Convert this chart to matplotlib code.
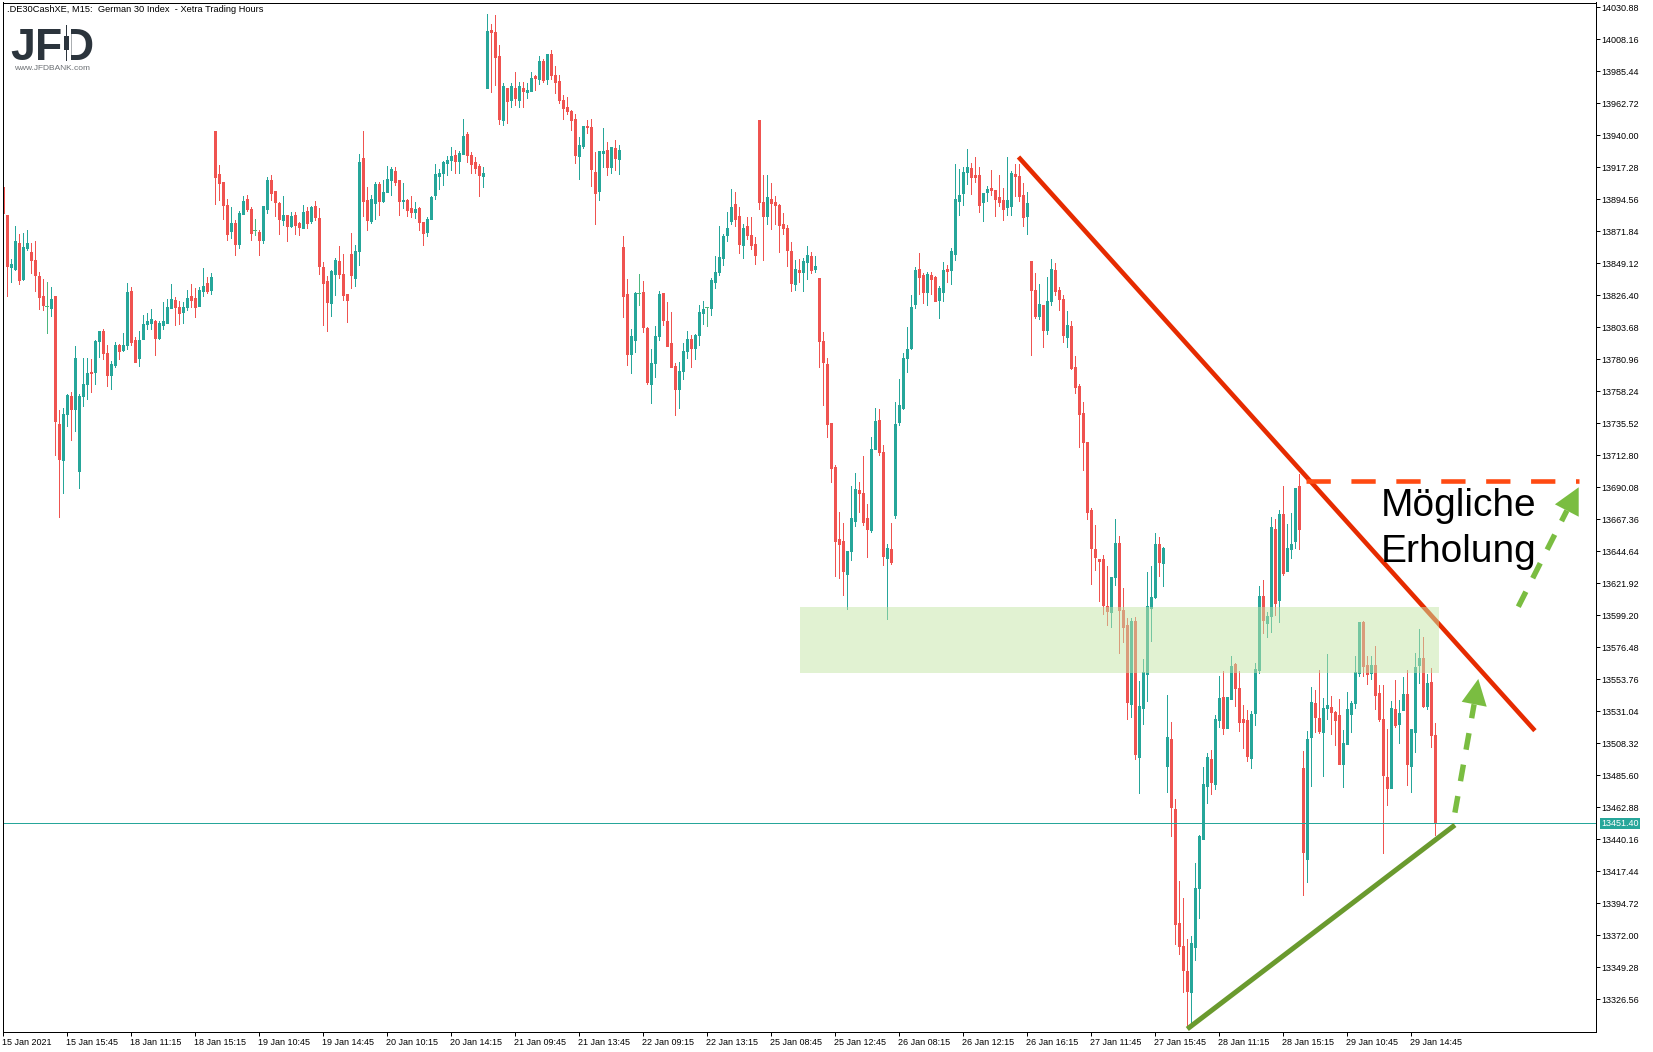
import matplotlib
matplotlib.use("Agg")
import matplotlib.pyplot as plt
import numpy as np
from matplotlib.patches import Polygon, Rectangle

plt.rcParams["font.family"] = ["Liberation Sans", "DejaVu Sans"]

# R = falling, G = rising, D = doji
directions = (
    "RRGGRGGRRR" "RDGRRGGRGG" "GGRGGRRGGR" "GGRRGGGGRG" "GGGRRGGRRG"
    "GRGRRRRGRG" "GRRDRGGRRR" "GRGRRGRGRR" "RRGGRRRRGG" "RRGGRGGGRR"
    "GRRGRRGGGG" "GGGRGGRRRR" "GGRRRGRGRG" "RGGRGRGRRR" "RRRRGGRRRG"
    "GRGRGRRGGD" "RRGGGRRRRG" "GGRGGGDGGG" "GGGRRGRRRR" "RGRRRRRRGR"
    "GGRGRRRRRR" "RGGGRRRGGR" "RGRGGGGGGR" "RGRRGGRGGG" "GGRRRGGRRR"
    "RGGRRRGRRG" "RGGRRRGRRR" "RRRRRRRGGR" "RRGRGGGGGR" "GGRRRRRGGG"
    "GGRGGRGGRR" "RRGGGRGGRG" "RGGGRRGGRR" "GGRRRGGGGG" "RRGRRRRGRG"
    "GRGGGRGRR"
)

highs = [
    13903.3, 13883.4, 13852.2, 13875.5, 13870.0, 13870.7, 13872.9, 13863.5, 13864.9, 13842.9,
    13838.1, 13835.9, 13832.3, 13825.8, 13744.9, 13746.4, 13756.5, 13757.7, 13790.3, 13756.2,
    13781.9, 13781.9, 13781.2, 13794.6, 13801.1, 13802.5, 13791.0, 13779.7, 13793.2, 13791.8,
    13799.7, 13835.2, 13832.3, 13796.8, 13801.1, 13812.4, 13813.8, 13816.7, 13808.8, 13808.1,
    13821.7, 13823.9, 13834.5, 13825.1, 13822.2, 13821.7, 13830.1, 13834.5, 13831.6, 13832.3,
    13845.7, 13839.3, 13842.1, 13943.0, 13918.9, 13906.8, 13894.8, 13889.1, 13879.9, 13886.2,
    13896.9, 13897.6, 13889.1, 13880.6, 13872.7, 13889.8, 13910.4, 13911.8, 13900.4, 13892.6,
    13896.9, 13883.4, 13885.5, 13885.5, 13878.4, 13890.5, 13889.1, 13889.8, 13893.3, 13888.4,
    13850.0, 13840.1, 13844.3, 13852.9, 13861.4, 13855.7, 13827.3, 13870.6, 13862.1, 13926.7,
    13943.0, 13903.3, 13897.6, 13906.8, 13906.8, 13908.3, 13918.2, 13917.5, 13917.5, 13908.3,
    13906.1, 13894.8, 13896.9, 13892.6, 13889.1, 13878.4, 13882.0, 13896.9, 13919.6, 13916.1,
    13921.7, 13925.3, 13931.7, 13929.6, 13928.8, 13951.6, 13942.3, 13928.1, 13924.6, 13919.6,
    13917.5, 14026.1, 14019.0, 14025.4, 14004.1, 13977.1, 13973.6, 13977.1, 13984.9, 13977.8,
    13977.8, 13977.1, 13984.9, 13982.8, 13996.3, 13994.2, 13997.7, 14000.6, 13989.2, 13982.8,
    13968.6, 13967.2, 13958.0, 13955.1, 13938.8, 13946.6, 13950.9, 13951.6, 13928.1, 13928.8,
    13945.2, 13935.2, 13931.7, 13936.7, 13933.1, 13868.5, 13837.9, 13802.4, 13828.7, 13841.5,
    13836.5, 13803.9, 13788.2, 13804.6, 13829.4, 13828.0, 13821.6, 13814.5, 13778.3, 13779.0,
    13792.5, 13801.0, 13798.2, 13798.9, 13819.5, 13822.3, 13818.1, 13838.7, 13854.3, 13875.6,
    13869.9, 13885.5, 13901.9, 13899.7, 13889.1, 13877.0, 13882.0, 13882.0, 13867.8, 13950.9,
    13911.8, 13911.8, 13906.1, 13896.9, 13891.2, 13884.8, 13876.3, 13864.3, 13851.5, 13852.3,
    13853.0, 13861.4, 13857.1, 13854.2, 13838.6, 13800.4, 13781.9, 13735.6, 13705.9, 13672.5,
    13664.8, 13644.9, 13691.0, 13700.1, 13693.9, 13712.3, 13678.3, 13725.8, 13746.4, 13745.7,
    13720.0, 13649.5, 13664.8, 13750.7, 13767.1, 13785.6, 13803.8, 13826.6, 13846.5, 13856.3,
    13842.2, 13842.9, 13842.9, 13840.0, 13833.1, 13850.1, 13847.9, 13859.9, 13919.7, 13916.1,
    13917.6, 13930.3, 13920.4, 13924.7, 13917.6, 13899.1, 13904.1, 13915.4, 13901.2, 13911.8,
    13902.7, 13924.5, 13914.7, 13919.7, 13919.7, 13906.0, 13899.8, 13850.7, 13842.2, 13834.4,
    13819.5, 13839.4, 13852.2, 13849.3, 13832.3, 13826.6, 13815.2, 13808.1, 13783.3, 13763.4,
    13750.6, 13722.2, 13675.3, 13663.3, 13639.1, 13642.0, 13634.2, 13626.4, 13667.5, 13655.5,
    13618.5, 13597.2, 13597.2, 13597.9, 13552.5, 13568.2, 13629.9, 13634.2, 13657.6, 13654.7,
    13647.7, 13542.6, 13523.4, 13468.8, 13410.5, 13398.5, 13369.3, 13371.5, 13423.3, 13443.2,
    13491.5, 13501.4, 13503.6, 13528.4, 13556.0, 13559.6, 13541.2, 13570.3, 13565.3, 13559.6,
    13535.5, 13532.0, 13531.2, 13565.3, 13619.9, 13624.2, 13601.5, 13669.0, 13667.5, 13673.9,
    13691.0, 13664.0, 13671.8, 13689.6, 13699.5, 13502.8, 13517.0, 13548.3, 13546.2, 13560.4,
    13540.5, 13571.7, 13541.9, 13531.2, 13539.8, 13517.7, 13544.7, 13538.3, 13570.3, 13594.4,
    13595.2, 13570.3, 13570.3, 13577.4, 13549.7, 13549.7, 13518.5, 13538.3, 13553.3, 13539.1,
    13555.4, 13560.4, 13518.5, 13572.4, 13589.4, 13583.8, 13557.5, 13561.8, 13522.7,
]

lows = [
    13884.9, 13825.8, 13835.9, 13844.3, 13834.5, 13837.3, 13858.5, 13842.1, 13829.4, 13816.7,
    13816.0, 13799.7, 13811.7, 13713.0, 13668.9, 13685.9, 13733.7, 13723.6, 13730.1, 13689.5,
    13747.8, 13752.9, 13757.7, 13763.4, 13782.6, 13781.2, 13762.0, 13759.8, 13775.4, 13781.2,
    13786.9, 13788.1, 13791.0, 13779.0, 13776.1, 13795.3, 13802.3, 13802.5, 13784.1, 13795.3,
    13802.5, 13806.6, 13817.4, 13805.2, 13805.9, 13806.6, 13816.0, 13818.1, 13810.9, 13818.8,
    13825.8, 13828.0, 13827.3, 13891.2, 13894.1, 13880.6, 13865.7, 13867.1, 13855.0, 13860.0,
    13884.1, 13886.2, 13865.7, 13869.2, 13855.0, 13863.5, 13884.8, 13894.1, 13882.7, 13869.9,
    13876.3, 13864.9, 13874.9, 13869.9, 13869.2, 13874.2, 13874.2, 13877.7, 13879.9, 13841.5,
    13805.3, 13801.0, 13811.7, 13826.6, 13838.7, 13823.0, 13807.4, 13831.6, 13833.0, 13847.9,
    13882.7, 13872.7, 13877.7, 13880.6, 13883.4, 13892.6, 13899.7, 13897.6, 13904.7, 13883.4,
    13888.4, 13882.7, 13882.0, 13881.3, 13872.7, 13862.1, 13868.5, 13880.6, 13894.8, 13901.9,
    13904.7, 13911.8, 13915.3, 13913.2, 13913.2, 13926.7, 13921.0, 13913.2, 13913.2, 13896.9,
    13903.3, 13973.6, 13970.7, 13975.7, 13948.0, 13947.3, 13948.7, 13960.1, 13961.5, 13960.1,
    13960.1, 13966.5, 13971.4, 13972.2, 13976.4, 13977.8, 13976.4, 13980.0, 13970.0, 13962.9,
    13951.6, 13955.1, 13943.7, 13920.3, 13909.0, 13931.0, 13941.6, 13904.0, 13877.0, 13894.0,
    13917.5, 13911.8, 13913.2, 13915.3, 13912.5, 13811.0, 13776.9, 13771.2, 13786.1, 13819.5,
    13800.3, 13763.4, 13749.9, 13768.3, 13794.6, 13805.3, 13790.4, 13775.5, 13741.4, 13746.3,
    13766.9, 13781.8, 13775.5, 13781.1, 13791.1, 13806.0, 13804.6, 13812.4, 13831.6, 13840.8,
    13847.9, 13864.9, 13877.0, 13875.6, 13856.4, 13852.8, 13866.3, 13859.2, 13848.6, 13887.6,
    13851.4, 13877.0, 13873.4, 13877.0, 13857.1, 13869.9, 13847.2, 13829.5, 13830.2, 13835.9,
    13829.5, 13837.9, 13842.2, 13842.9, 13775.5, 13748.6, 13725.8, 13693.9, 13627.1, 13625.9,
    13613.7, 13603.9, 13638.4, 13662.7, 13672.5, 13663.4, 13640.6, 13658.4, 13717.1, 13713.1,
    13634.8, 13596.7, 13635.5, 13668.2, 13734.2, 13745.7, 13771.9, 13788.2, 13817.5, 13827.3,
    13820.8, 13819.6, 13827.3, 13822.3, 13810.3, 13822.3, 13835.9, 13834.5, 13851.5, 13883.5,
    13890.4, 13905.3, 13898.3, 13906.7, 13885.6, 13879.1, 13893.3, 13897.6, 13882.7, 13889.7,
    13879.9, 13883.5, 13883.5, 13896.9, 13893.3, 13875.6, 13870.0, 13784.1, 13810.3, 13809.6,
    13789.7, 13798.9, 13819.5, 13826.6, 13815.9, 13793.2, 13789.7, 13774.1, 13757.0, 13718.7,
    13702.3, 13667.5, 13621.4, 13631.3, 13609.3, 13600.1, 13592.3, 13590.9, 13620.7, 13572.7,
    13580.2, 13525.6, 13527.0, 13497.2, 13473.0, 13522.0, 13538.3, 13581.0, 13611.5, 13627.1,
    13620.0, 13473.7, 13442.5, 13365.8, 13358.7, 13331.7, 13306.8, 13310.4, 13354.4, 13384.2,
    13440.3, 13465.9, 13472.3, 13475.9, 13519.9, 13514.9, 13519.2, 13539.8, 13534.8, 13517.0,
    13505.0, 13495.7, 13490.8, 13521.3, 13558.2, 13586.6, 13583.7, 13587.3, 13599.4, 13594.4,
    13627.8, 13630.6, 13639.8, 13646.9, 13646.2, 13400.6, 13409.8, 13478.0, 13516.3, 13515.6,
    13485.1, 13525.6, 13514.9, 13507.1, 13493.6, 13477.3, 13507.8, 13516.3, 13533.4, 13556.1,
    13556.1, 13550.4, 13554.0, 13532.7, 13524.1, 13430.4, 13464.5, 13476.6, 13519.9, 13508.5,
    13532.0, 13478.7, 13473.7, 13502.1, 13551.1, 13534.1, 13532.6, 13505.7, 13443.2,
]

body_tops = [
    13903.3, 13883.4, 13848.6, 13864.9, 13863.5, 13860.6, 13863.5, 13857.0, 13851.5, 13840.0,
    13825.8, 13819.1, 13823.7, 13825.8, 13735.1, 13742.1, 13755.5, 13754.8, 13781.9, 13754.8,
    13763.4, 13771.1, 13771.8, 13793.9, 13801.1, 13801.1, 13785.3, 13777.6, 13791.0, 13791.0,
    13791.0, 13828.7, 13829.4, 13794.6, 13794.6, 13805.9, 13808.1, 13809.5, 13808.1, 13806.6,
    13808.1, 13818.1, 13823.7, 13822.9, 13818.1, 13818.1, 13824.4, 13825.8, 13824.4, 13830.1,
    13833.0, 13835.2, 13839.3, 13943.0, 13912.5, 13906.8, 13890.5, 13877.7, 13877.7, 13884.8,
    13893.3, 13894.8, 13887.7, 13872.5, 13871.3, 13889.8, 13908.3, 13908.3, 13900.4, 13891.9,
    13883.4, 13883.4, 13882.7, 13883.4, 13877.7, 13885.5, 13886.2, 13889.1, 13889.8, 13881.3,
    13846.5, 13836.5, 13843.6, 13851.4, 13850.7, 13841.5, 13827.3, 13855.7, 13857.8, 13921.0,
    13923.9, 13894.1, 13894.8, 13905.4, 13905.4, 13899.7, 13909.0, 13916.1, 13914.6, 13908.3,
    13894.1, 13894.1, 13888.4, 13887.7, 13888.4, 13878.4, 13880.6, 13896.2, 13912.5, 13913.2,
    13921.0, 13922.5, 13925.3, 13926.0, 13927.4, 13939.5, 13940.9, 13926.0, 13921.0, 13918.2,
    13913.2, 14014.0, 14014.8, 14013.3, 13996.3, 13975.0, 13973.6, 13975.0, 13973.6, 13975.0,
    13973.6, 13972.2, 13980.7, 13982.1, 13992.7, 13992.7, 13997.7, 13997.7, 13982.8, 13978.5,
    13965.1, 13960.1, 13957.2, 13951.6, 13933.1, 13946.6, 13946.6, 13945.9, 13913.9, 13928.8,
    13928.8, 13929.5, 13931.7, 13931.0, 13929.5, 13860.7, 13827.3, 13797.5, 13828.0, 13827.8,
    13828.7, 13803.2, 13778.3, 13797.5, 13827.3, 13828.0, 13808.1, 13792.5, 13776.2, 13772.6,
    13786.8, 13795.3, 13795.3, 13798.2, 13814.5, 13816.6, 13817.8, 13837.2, 13842.9, 13853.6,
    13868.5, 13874.2, 13889.1, 13891.2, 13882.7, 13874.2, 13875.6, 13869.2, 13862.8, 13950.9,
    13892.6, 13896.2, 13894.8, 13892.6, 13890.5, 13877.0, 13874.2, 13857.8, 13845.1, 13844.3,
    13850.8, 13854.9, 13854.2, 13847.2, 13838.6, 13793.9, 13777.6, 13735.6, 13704.4, 13653.3,
    13651.9, 13644.9, 13668.2, 13688.8, 13688.1, 13685.9, 13668.2, 13717.1, 13737.1, 13737.8,
    13715.2, 13647.1, 13646.3, 13734.9, 13748.6, 13781.9, 13788.2, 13818.2, 13844.3, 13845.1,
    13840.7, 13841.5, 13840.7, 13839.3, 13831.6, 13844.3, 13845.1, 13857.8, 13894.8, 13897.6,
    13913.9, 13917.6, 13916.8, 13911.8, 13911.8, 13899.1, 13901.9, 13902.7, 13901.2, 13896.2,
    13894.0, 13894.0, 13913.2, 13912.5, 13911.1, 13897.6, 13891.9, 13850.7, 13830.2, 13820.2,
    13819.5, 13822.3, 13845.1, 13844.4, 13830.2, 13823.8, 13805.3, 13804.6, 13775.5, 13762.0,
    13742.8, 13722.2, 13673.9, 13646.2, 13639.1, 13639.1, 13605.8, 13626.4, 13650.5, 13650.5,
    13602.9, 13592.3, 13595.1, 13595.1, 13534.8, 13558.9, 13605.8, 13612.2, 13649.8, 13649.8,
    13646.9, 13512.8, 13511.4, 13461.7, 13380.7, 13364.4, 13346.6, 13366.5, 13405.6, 13442.5,
    13479.4, 13498.6, 13497.2, 13525.6, 13540.5, 13541.2, 13541.2, 13563.2, 13564.6, 13547.6,
    13525.6, 13524.8, 13529.1, 13561.1, 13612.9, 13612.9, 13598.7, 13661.9, 13660.4, 13671.1,
    13671.1, 13646.9, 13649.8, 13689.6, 13691.0, 13490.8, 13511.4, 13537.6, 13536.9, 13526.3,
    13533.4, 13535.5, 13534.1, 13530.5, 13528.4, 13508.5, 13532.7, 13536.9, 13559.0, 13594.4,
    13594.4, 13563.9, 13563.9, 13563.9, 13544.0, 13525.6, 13484.4, 13533.4, 13532.7, 13529.8,
    13543.3, 13543.3, 13518.5, 13562.5, 13568.9, 13568.9, 13551.1, 13551.8, 13514.2,
]

body_bottoms = [
    13884.9, 13847.2, 13846.5, 13845.0, 13837.3, 13838.1, 13859.9, 13851.5, 13840.7, 13825.1,
    13819.3, 13819.1, 13817.4, 13737.3, 13710.1, 13709.4, 13742.1, 13745.7, 13745.7, 13701.7,
    13754.8, 13763.4, 13771.1, 13771.8, 13793.9, 13785.3, 13769.9, 13769.9, 13776.9, 13786.9,
    13787.7, 13791.0, 13793.2, 13779.0, 13781.9, 13795.3, 13805.9, 13806.6, 13796.1, 13796.1,
    13805.2, 13806.6, 13817.4, 13818.1, 13813.8, 13814.5, 13818.1, 13822.9, 13818.1, 13818.8,
    13829.4, 13829.4, 13830.1, 13910.4, 13906.1, 13890.5, 13869.9, 13872.0, 13862.8, 13862.8,
    13884.1, 13887.7, 13870.6, 13872.5, 13865.7, 13865.7, 13887.7, 13899.0, 13892.6, 13880.6,
    13879.9, 13875.6, 13875.6, 13876.3, 13874.9, 13874.2, 13877.7, 13879.1, 13882.0, 13847.2,
    13835.1, 13821.6, 13820.9, 13841.5, 13841.5, 13826.6, 13823.0, 13840.8, 13838.7, 13857.8,
    13893.3, 13879.9, 13879.1, 13891.9, 13893.3, 13893.3, 13899.7, 13908.3, 13906.8, 13893.3,
    13893.3, 13886.9, 13885.5, 13885.5, 13878.4, 13870.6, 13871.3, 13880.6, 13897.6, 13911.1,
    13913.2, 13920.3, 13922.5, 13921.7, 13921.7, 13926.7, 13926.0, 13919.6, 13916.8, 13911.8,
    13911.1, 13973.6, 14013.3, 13995.6, 13951.6, 13950.9, 13964.3, 13965.1, 13966.5, 13965.1,
    13971.4, 13970.7, 13971.4, 13980.7, 13980.0, 13979.2, 13980.0, 13982.8, 13977.8, 13965.1,
    13959.4, 13957.2, 13950.9, 13926.0, 13925.3, 13932.4, 13945.9, 13916.1, 13899.0, 13900.4,
    13927.4, 13917.5, 13917.5, 13923.9, 13923.2, 13825.9, 13784.7, 13784.7, 13794.6, 13827.8,
    13803.9, 13764.8, 13763.4, 13778.3, 13797.5, 13808.8, 13790.4, 13775.5, 13759.8, 13759.8,
    13772.6, 13786.8, 13788.9, 13788.9, 13798.2, 13813.8, 13817.8, 13817.3, 13835.8, 13842.9,
    13852.9, 13869.2, 13879.1, 13880.6, 13862.8, 13862.1, 13869.2, 13862.1, 13855.0, 13892.6,
    13882.7, 13882.7, 13891.9, 13890.5, 13876.3, 13874.2, 13858.5, 13835.2, 13834.5, 13842.9,
    13842.9, 13850.1, 13844.3, 13845.1, 13793.9, 13779.1, 13734.9, 13703.7, 13651.9, 13649.7,
    13630.7, 13628.8, 13644.9, 13666.0, 13685.9, 13665.5, 13660.5, 13659.8, 13717.1, 13715.2,
    13641.3, 13639.9, 13637.0, 13670.3, 13736.3, 13746.4, 13781.9, 13788.9, 13820.1, 13839.3,
    13828.7, 13828.7, 13837.9, 13822.3, 13823.0, 13828.7, 13843.6, 13844.3, 13855.6, 13893.3,
    13899.1, 13913.9, 13910.3, 13910.3, 13890.4, 13892.6, 13899.8, 13901.2, 13894.7, 13892.6,
    13887.8, 13889.0, 13889.7, 13911.1, 13896.9, 13882.0, 13882.7, 13830.2, 13811.7, 13811.7,
    13801.7, 13801.7, 13822.3, 13829.4, 13823.8, 13798.2, 13796.8, 13774.8, 13761.3, 13742.1,
    13722.2, 13672.5, 13647.0, 13640.6, 13637.7, 13606.5, 13602.2, 13601.5, 13626.4, 13602.9,
    13590.9, 13537.6, 13536.2, 13500.7, 13498.6, 13533.4, 13557.5, 13604.4, 13612.2, 13637.0,
    13636.3, 13492.2, 13463.1, 13380.0, 13364.4, 13347.3, 13332.4, 13331.7, 13363.7, 13405.6,
    13440.3, 13478.0, 13480.8, 13479.4, 13524.8, 13519.2, 13519.2, 13539.8, 13547.6, 13523.4,
    13523.4, 13499.3, 13497.9, 13529.8, 13560.4, 13595.8, 13593.7, 13598.7, 13607.9, 13610.0,
    13629.2, 13630.6, 13646.2, 13651.9, 13660.4, 13431.1, 13426.1, 13512.8, 13527.0, 13517.0,
    13516.3, 13533.4, 13530.5, 13524.8, 13493.6, 13493.6, 13507.8, 13529.1, 13536.9, 13558.2,
    13563.2, 13557.5, 13558.2, 13542.6, 13525.6, 13485.8, 13476.6, 13476.6, 13521.3, 13522.0,
    13532.0, 13493.6, 13492.2, 13516.3, 13563.9, 13534.8, 13534.8, 13514.2, 13451.4,
]

last_price = 13451.40

y_tick_labels = [
    "14030.88", "14008.16", "13985.44", "13962.72", "13940.00", "13917.28", "13894.56", "13871.84",
    "13849.12", "13826.40", "13803.68", "13780.96", "13758.24", "13735.52", "13712.80", "13690.08",
    "13667.36", "13644.64", "13621.92", "13599.20", "13576.48", "13553.76", "13531.04", "13508.32",
    "13485.60", "13462.88", "13440.16", "13417.44", "13394.72", "13372.00", "13349.28", "13326.56",
]
x_tick_bars = [0, 16, 32, 48, 64, 80, 96, 112, 128, 144, 160, 176, 192, 208, 224, 240, 256, 272, 288,
               304, 320, 336, 352]
x_tick_labels = [
    "15 Jan 2021", "15 Jan 15:45", "18 Jan 11:15", "18 Jan 15:15", "19 Jan 10:45", "19 Jan 14:45",
    "20 Jan 10:15", "20 Jan 14:15", "21 Jan 09:45", "21 Jan 13:45", "22 Jan 09:15", "22 Jan 13:15",
    "25 Jan 08:45", "25 Jan 12:45", "26 Jan 08:15", "26 Jan 12:15", "26 Jan 16:15", "27 Jan 11:45",
    "27 Jan 15:45", "28 Jan 11:15", "28 Jan 15:15", "29 Jan 10:45", "29 Jan 14:45",
]

# drawn analysis objects, in (bar, price)
falling_line = [(254.0, 13924.6), (383.1, 13517.3)]
rising_line = [(296.2, 13305.5), (363.1, 13450.3)]
resistance_level = [(325.9, 13694.55), (394.05, 13694.55)]
zone_bars = (199.4, 359.1)
zone_prices = (13558.0, 13605.3)
arrow_one = [(363.1, 13459.1), (367.9, 13536.0)]
arrow_one_head = [(368.95, 13554.0), (364.8, 13537.8), (371.05, 13534.3)]
arrow_two = [(378.95, 13605.3), (391.1, 13673.6)]
arrow_two_head = [(394.05, 13690.1), (388.1, 13678.0), (394.05, 13669.2)]

UP = "#26a69a"
DOWN = "#ef5350"
DOJI = "#4cb77f"
PX = 0.72  # one pixel in points at dpi 100

W, H = 1653, 1052
fig = plt.figure(figsize=(W / 100, H / 100), dpi=100)
ax = fig.add_axes([2.5 / W, 1 - 1031.5 / H, 1593 / W, 1029 / H])
ax.set_xlim(0, 398.25)
ax.set_ylim(13303.70, 14034.29)

x = np.arange(len(highs))
colors = [{"R": DOWN, "G": UP, "D": DOJI}[d] for d in directions]
tops = np.array(body_tops)
bottoms = np.array(body_bottoms)

ax.vlines(x, lows, highs, colors=colors, linewidth=PX, antialiased=False, zorder=2)
solid = np.array([d != "D" for d in directions])
ax.vlines(x[solid], bottoms[solid], tops[solid], colors=np.array(colors)[solid], linewidth=3 * PX,
          antialiased=False, zorder=2)
ax.hlines(tops[~solid], x[~solid] - 0.375, x[~solid] + 0.375, colors=DOJI, linewidth=PX,
          antialiased=False, zorder=2)

ax.axhline(last_price, color=UP, linewidth=PX, antialiased=False, zorder=2)

ax.plot(*zip(*falling_line), color="#e62b00", linewidth=3.3, solid_capstyle="butt", zorder=3)
ax.add_patch(Rectangle((zone_bars[0], zone_prices[0]), zone_bars[1] - zone_bars[0],
                       zone_prices[1] - zone_prices[0], facecolor="#c5e6a6", alpha=0.5,
                       linewidth=0, zorder=4))
ax.plot(*zip(*rising_line), color="#6a9a2e", linewidth=3.6, solid_capstyle="butt", zorder=5)
ax.plot(*zip(*resistance_level), color="#ff4a12", linewidth=3.3, linestyle=(0, (5.3, 4.5)),
        dash_capstyle="butt", zorder=5)
for line, head in [(arrow_one, arrow_one_head), (arrow_two, arrow_two_head)]:
    ax.plot(*zip(*line), color="#7abd41", linewidth=3.9, linestyle=(0, (3.1, 2.8)),
            dash_capstyle="butt", zorder=5)
    ax.add_patch(Polygon(head, closed=True, facecolor="#7abd41", edgecolor="none", zorder=5))

ax.text(344.6, 13669.7, "Mögliche", fontsize=28, color="black", va="baseline", zorder=6)
ax.text(344.6, 13637.3, "Erholung", fontsize=28, color="black", va="baseline", zorder=6)

ax.yaxis.tick_right()
ax.set_yticks([float(v) for v in y_tick_labels])
ax.set_yticklabels(y_tick_labels, fontsize=6.5)
ax.tick_params(axis="y", length=2.9, width=PX, pad=1.5)
ax.set_xticks(x_tick_bars)
ax.set_xticklabels(x_tick_labels, fontsize=6.5, ha="left")
ax.tick_params(axis="x", length=2.9, width=PX, pad=1.5)
for spine in ax.spines.values():
    spine.set_linewidth(PX)

ax.annotate(f"{last_price:.2f}", xy=(1, last_price), xycoords=ax.get_yaxis_transform(),
            xytext=(6, 0), textcoords="offset pixels", va="center", ha="left", fontsize=6.5,
            color="white", bbox=dict(boxstyle="square,pad=0.15", facecolor=UP, edgecolor="none"))


def fx(px):
    return px / W


def fy(px):
    return 1 - px / H


fig.text(fx(7), fy(9.5), ".DE30CashXE, M15:  German 30 Index  - Xetra Trading Hours",
         fontsize=6.7, va="center", ha="left")

# logo
LOGO = "#2b343c"
fig.text(fx(10), fy(60), "J", fontsize=32, fontweight="bold", color=LOGO, va="baseline")
fig.text(fx(35), fy(60), "F", fontsize=32, fontweight="bold", color=LOGO, va="baseline")
fig.text(fx(62), fy(60), "D", fontsize=32, fontweight="bold", color=LOGO, va="baseline")
fig.add_artist(Rectangle((fx(61), fy(62)), 10 / W, 38 / H, transform=fig.transFigure,
                         facecolor="white", edgecolor="none", zorder=5))
fig.add_artist(Rectangle((fx(64), fy(50)), 5 / W, 14 / H, transform=fig.transFigure,
                         facecolor=LOGO, edgecolor="none", zorder=6))
fig.add_artist(Rectangle((fx(66), fy(61)), 1 / W, 36 / H, transform=fig.transFigure,
                         facecolor=LOGO, edgecolor="none", zorder=6))
fig.text(fx(14), fy(69), "www.JFDBANK.com", fontsize=6.0, color="#6b6f73", va="center", ha="left")

fig.savefig("out.png", dpi=100)
